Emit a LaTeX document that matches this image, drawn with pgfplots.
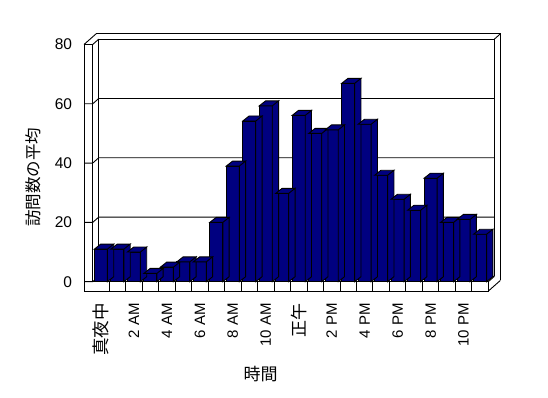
\documentclass[border=0pt]{standalone}
\usepackage{fontspec}
\setmainfont{Liberation Sans}
\newfontfamily\cjk{Noto Sans CJK JP}
\usepackage{pgfplots}
\usepackage{pgfplotstable}
\pgfplotsset{compat=1.18}
\definecolor{barnavy}{RGB}{0,0,128}
\newcommand\yunit{2.965}
% top and right side faces of a 3-D bar; origin = top centre of the front face
\pgfdeclareplotmark{barthreed}{%
  \pgfmathsetlengthmacro\barH{\rawy*\yunit pt}%
  \pgfpathmoveto{\pgfpoint{6.5pt}{0pt}}%
  \pgfpathlineto{\pgfpoint{12.8pt}{5pt}}%
  \pgfpathlineto{\pgfpoint{12.8pt}{5pt-\barH}}%
  \pgfpathlineto{\pgfpoint{6.5pt}{-\barH}}%
  \pgfpathclose
  \pgfpathmoveto{\pgfpoint{-6.5pt}{0pt}}%
  \pgfpathlineto{\pgfpoint{-0.2pt}{5pt}}%
  \pgfpathlineto{\pgfpoint{12.8pt}{5pt}}%
  \pgfpathlineto{\pgfpoint{6.5pt}{0pt}}%
  \pgfpathclose
  \pgfusepathqfillstroke
}
\pgfplotstableread{
x h
0 11
1 11
2 10
3 2.8
4 4.9
5 6.7
6 6.7
7 20
8 39
9 54.2
10 59.3
11 29.8
12 56.1
13 50
14 51.2
15 66.9
16 53.1
17 35.9
18 27.8
19 24.1
20 34.9
21 20
22 21
23 16
}\visits
\begin{document}
\begin{tikzpicture}
\path[use as bounding box] (0,0) rectangle (548pt,398pt);
\begin{axis}[
  at={(92.7pt,116.3pt)}, anchor=south west,
  scale only axis, width=395.6pt, height=237.2pt,
  xmin=-0.5, xmax=23.5, ymin=0, ymax=80,
  axis line style={draw=none}, major tick length=0pt,
  xtick={0,2,...,22},
  xticklabels={{\cjk\fontsize{17.5}{18}\selectfont 真夜中},2 AM,4 AM,6 AM,8 AM,10 AM,{\cjk\fontsize{17}{18}\selectfont 正午},2 PM,4 PM,6 PM,8 PM,10 PM},
  xticklabel style={rotate=90, anchor=east, inner sep=0pt, font=\fontsize{15}{16}\selectfont},
  xticklabel shift=21.3pt,
  ytick={0,20,...,80},
  yticklabel style={anchor=east, inner sep=0pt, font=\fontsize{15.5}{16}\selectfont},
  yticklabel shift=20.5pt,
  /pgf/number format/assume math mode=true,
  clip=false,
  every axis plot/.append style={line width=0.9pt},
]
% back wall grid lines and left-wall ticks
\pgfplotsinvokeforeach{0,20,40,60}{
  \draw[line width=0.9pt] ([xshift=-8.7pt]axis cs:-0.5,#1) -- (axis cs:-0.5,#1)
     -- ([shift={(6pt,5.3pt)}]axis cs:-0.5,#1) -- ([shift={(6pt,5.3pt)}]axis cs:23.5,#1);
}
% back wall frame
\draw[line width=0.9pt] ([shift={(6pt,5.3pt)}]axis cs:-0.5,0) -- ([shift={(6pt,5.3pt)}]axis cs:-0.5,80)
   -- ([shift={(6pt,5.3pt)}]axis cs:23.5,80) -- ([shift={(6pt,5.3pt)}]axis cs:23.5,0);
\draw[line width=0.9pt] ([shift={(3.3pt,10.6pt)}]axis cs:-0.5,80) -- ([shift={(12pt,10.6pt)}]axis cs:23.5,80)
   -- ([shift={(12pt,1.2pt)}]axis cs:23.5,0);
\draw[line width=0.9pt] ([shift={(6pt,5.3pt)}]axis cs:23.5,80) -- ([shift={(12pt,10.6pt)}]axis cs:23.5,80);
% left wall top
\draw[line width=0.9pt] ([xshift=-8.7pt]axis cs:-0.5,80) -- (axis cs:-0.5,80) -- ([shift={(6pt,5.3pt)}]axis cs:-0.5,80);
\draw[line width=0.9pt] ([xshift=-8.7pt]axis cs:-0.5,80) -- ([shift={(3.3pt,10.6pt)}]axis cs:-0.5,80);
% bars: side and top faces, then front faces
\addplot[only marks, mark=barthreed, mark options={fill=barnavy, draw=black, line width=0.9pt},
  visualization depends on=rawy \as \rawy] table[x=x,y=h]{\visits};
\addplot[ybar, bar width=13pt, fill=barnavy, draw=black, line width=0.9pt] table[x=x,y=h]{\visits};
% left wall and floor front faces
\draw[line width=0.9pt] ([xshift=-8.7pt]axis cs:-0.5,80) -- ([shift={(-8.7pt,-9.4pt)}]axis cs:-0.5,0)
   -- ([yshift=-9.4pt]axis cs:23.5,0) -- (axis cs:23.5,0) -- (axis cs:-0.5,0) -- (axis cs:-0.5,80);
\draw[line width=0.9pt] (axis cs:23.5,0) -- ([shift={(6pt,5.3pt)}]axis cs:23.5,0);
\draw[line width=0.9pt] ([yshift=-9.4pt]axis cs:23.5,0) -- ([shift={(12pt,1.2pt)}]axis cs:23.5,0);
\pgfplotsinvokeforeach{0.5,1.5,...,22.5}{
  \draw[line width=0.9pt] (axis cs:#1,0) -- ([yshift=-9.4pt]axis cs:#1,0);
}
% axis titles
\node[rotate=90, font=\cjk\fontsize{16.5}{18}\selectfont] at ([xshift=-59.7pt]axis cs:-0.5,35.3) {訪問数の平均};
\node[font=\cjk\fontsize{17}{18}\selectfont] at ([yshift=-92.3pt]axis cs:9.68,0) {時間};
\end{axis}
\end{tikzpicture}
\end{document}
